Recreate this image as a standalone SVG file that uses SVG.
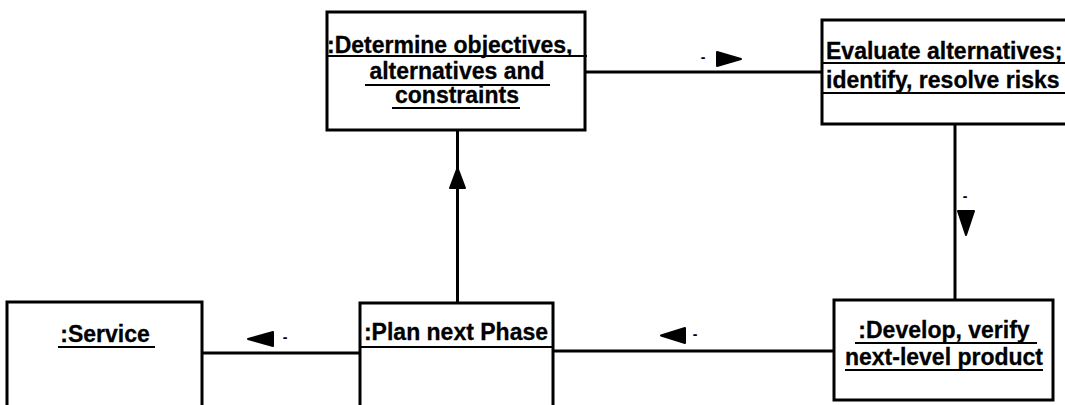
<svg xmlns="http://www.w3.org/2000/svg" width="1065" height="405" viewBox="0 0 1065 405">
  <style>
    .box { fill: #fff; stroke: #000; stroke-width: 3; }
    .ln { stroke: #000; stroke-width: 3; fill: none; }
    .ul { stroke: #000; stroke-width: 2; }
    .t { font-family: "Liberation Sans", Arial, sans-serif; font-weight: bold; font-size: 23px; fill: #000; stroke: #000; stroke-width: 0.3; }
    .lbl { font-family: "Liberation Sans", Arial, sans-serif; font-weight: bold; font-size: 14px; fill: #000; text-anchor: middle; }
    .head { fill: #000; stroke: #000; stroke-width: 2; stroke-linejoin: round; }
  </style>

  <!-- connectors -->
  <g id="connectors">
    <line class="ln" x1="585" y1="72" x2="822" y2="72"/>
    <polygon class="head" points="717,52 741,59 717,66"/>
    <text class="lbl" x="703" y="62">-</text>

    <line class="ln" x1="955" y1="124" x2="955" y2="300"/>
    <polygon class="head" points="958,211 974,211 966,235"/>
    <text class="lbl" x="965" y="201">-</text>

    <line class="ln" x1="553" y1="351" x2="834" y2="351"/>
    <polygon class="head" points="685,328 685,343 661,335.5"/>
    <text class="lbl" x="695" y="339">-</text>

    <line class="ln" x1="202" y1="353" x2="360" y2="353"/>
    <polygon class="head" points="273,332 273,346 248,339"/>
    <text class="lbl" x="285" y="342">-</text>

    <line class="ln" x1="457.5" y1="130" x2="457.5" y2="303"/>
    <polygon class="head" points="450,188 465,188 457.5,168"/>
  </g>

  <!-- Determine objectives -->
  <g id="determine">
    <rect class="box" x="327" y="12" width="258" height="118"/>
    <text class="t" x="327" y="53">:Determine objectives,</text>
    <line class="ul" x1="327" y1="56" x2="587" y2="56"/>
    <text class="t" x="457" y="79" text-anchor="middle">alternatives and</text>
    <line class="ul" x1="365" y1="85" x2="550" y2="85"/>
    <text class="t" x="457" y="103" text-anchor="middle">constraints</text>
    <line class="ul" x1="392" y1="108" x2="520" y2="108"/>
  </g>

  <!-- Evaluate alternatives -->
  <g id="evaluate">
    <rect class="box" x="822" y="20" width="260" height="104"/>
    <text class="t" x="826" y="59">Evaluate alternatives;</text>
    <line class="ul" x1="822" y1="63" x2="1065" y2="63"/>
    <text class="t" x="826" y="88">identify, resolve risks</text>
    <line class="ul" x1="822" y1="93" x2="1065" y2="93"/>
  </g>

  <!-- Develop, verify -->
  <g id="develop">
    <rect class="box" x="834" y="300" width="219" height="100"/>
    <text class="t" x="944" y="338" text-anchor="middle">:Develop, verify</text>
    <line class="ul" x1="855" y1="343" x2="1037" y2="343"/>
    <text class="t" x="944" y="365" text-anchor="middle">next-level product</text>
    <line class="ul" x1="845" y1="370" x2="1043" y2="370"/>
  </g>

  <!-- Plan next Phase -->
  <g id="plan">
    <rect class="box" x="360" y="303" width="193" height="120"/>
    <text class="t" x="456" y="340" text-anchor="middle">:Plan next Phase</text>
    <line class="ul" x1="360" y1="347" x2="553" y2="347"/>
  </g>

  <!-- Service -->
  <g id="service">
    <rect class="box" x="7" y="302" width="195" height="120"/>
    <text class="t" x="105" y="342" text-anchor="middle">:Service</text>
    <line class="ul" x1="58" y1="347" x2="155" y2="347"/>
  </g>
</svg>
